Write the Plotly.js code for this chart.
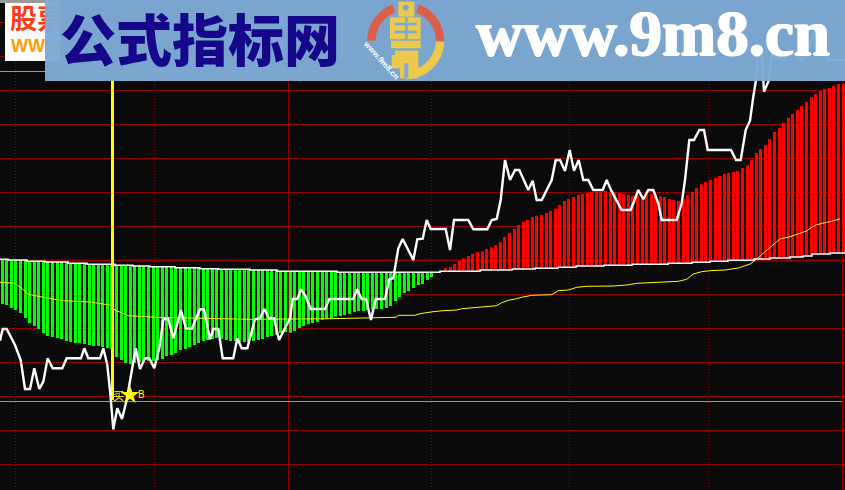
<!DOCTYPE html>
<html><head><meta charset="utf-8">
<script src="https://cdn.plot.ly/plotly-3.0.1.min.js"></script>
<style>html,body{margin:0;padding:0;background:#0a0a0a;overflow:hidden}#c{width:845px;height:490px}</style>
</head><body><div id="c"></div>
<script>
// Value levels are read on an axis whose scale runs 490 (bottom) to 0 (top); time runs 0..845.
const gridLevels=[22,56,90,124,158,192,226,294,328,362,396,430,464];
const heavyLevels=[260];
const signalLevels=[71,401];
const dottedTimes=[15,154,431,569,708];
const solidTimes=[288,842];

const barFirst=1.7, barStep=4.57;

// stepped middle line: the time each step begins, and its level
const baseT=[0,8,27,45,68,87,115,133,150,175,200,218,250,277,337,440,480,512,535,558,576,604,632,668,692,710,728,754,770,790,803,812,830,845];
const baseV=[259.3,260,261.3,262,263.3,264.3,265.3,266,266.7,267.7,268.7,269.3,270,271.3,272.3,271.3,270,269,268.3,267.3,266,265.3,264.3,263.3,262.3,261.3,260.3,259,258,257,256,254,253,251.7];

const greenEnds=[304,305,308,310,313,318,323,326,329,333,336,337,338,339,341,342,343,343,344,345,346,346,347,348,349,
357,360,363,364,363,362,361,361,361,360,359,356,355,353,350,349,347,345,343,341,340,339,338,339,340,341,341,342,342,342,341,340,339,337,336,335,
333,332,332.7,331,328,326,324,323,322,320,318.5,318,316.5,316,315,314,312,311,311,310,309.5,309,309,308,306,301,297,293,291,288,285,284,280,277,273];

const redFirst=97;
const redEnds=[268,266.7,264,261,258.3,256,254,252,251.3,249,247.3,245.3,242,237,233,229,225,222,220,217,215.7,215,213,211,208.7,205,201,199,197,195,194,193,192,192,192,191,191.7,
192.3,193,194,195,195.7,195,196,195,194,194.7,196.3,197,199,200,201,199,195.3,192,188,184.3,182,180,178,176,174,173,172,171,168,165.3,160,153,149,145,139,132,128,123,118,114,110,106,102,97,94,91,89,88,86,84,84];

const whiteT=[0,2.7,6.7,15,20.7,25,30,34.3,39.3,43.3,47.7,52.7,62.3,66.7,81,84.3,88.3,100,103.3,107.3,110.3,113.3,117.3,122,126.7,131.7,135.7,140,145,149.3,154.3,159.3,163.3,168.3,173.3,181,186,191.7,200,204,210,213.3,218.3,222.7,233.3,237.3,241.7,247.3,255,260,264.3,269,274,279,290,292.7,297.3,301,305,310.7,325,329.3,353.3,357,361.7,366,371,375.7,385,389.3,393.3,398.3,402.7,413.3,417.3,422.7,426.7,430.7,445.7,450,454,468.3,473.3,487.3,491.7,496.7,500.7,505,510,515,519.3,528.3,532.7,536.7,541.7,551.7,555.7,560,565,569.7,574,578.7,583.3,588.3,593.3,602.7,606.7,611,618.3,621.7,630.7,638.3,643.3,648.3,653.3,658.3,661.7,676.7,681.7,685,689.3,694,699.3,704,707.7,731,736,740.7,745.7,750,753.3,756,758,762,764,768.3,772,783,790,802,815,828,845];
const whiteV=[340.7,329,329,345,360,389,389,368.3,389,381.7,358.3,368.3,368.3,358.3,358.3,348.3,358.3,358.3,348.3,365,393.3,429.3,408.3,419,400,373.3,348.3,369,358.3,358.3,368.3,348.3,319,319,338.3,310,328.3,329,309.3,309.3,339.3,329,329,358.3,358.3,338.3,348.3,348.3,319.3,318.3,309,318.3,318.3,340,318.3,299,299,289.3,295,309,309,299,299,289.3,299,299,320,299,299,279.3,278.3,248.3,239,260,239.3,238.7,220,229,229,250,220,220,229.3,229.3,220,219,200,160,180,170,170,190,180.7,200,200,180,160,160,171,150,170.7,160,180,180,190,190,180,190,203.3,210,210,190,199.3,190,190,203.3,220,220,203.3,180,140,140,130,130,150,150,160,160,130,120.7,96.7,80,57,57,91.7,81.7,56,60,52,60,33,60,60];

const yellowT=[0,15,21.7,28.3,43.3,63.3,90,110,115,128.3,156.7,200,220,250,330,383,396,398.3,415,420,425,433,443,456.7,461.7,475,485,496.7,501.7,508.3,516.7,521.7,531.7,551.7,558.3,568.3,576.7,586.7,613.3,626.7,636.7,660,678.3,686.7,693.3,701.7,710,725,738.3,750,756.7,765,775,780,790,798,806.7,811.7,816.7,826.7,840];
const yellowV=[282.3,283.3,288.3,294.3,297.3,300.7,302,305,310,315.7,317.3,318.3,318.3,319.3,318.7,317.3,317.3,315.3,315.3,313.7,312.7,311.7,310.7,310,308.7,307.3,306.3,305.7,302.7,300.3,298.7,297.3,295.3,294.7,290.7,290,287.3,286.3,286,285,283.3,282.3,281.3,279.3,274,271.7,270.7,270,268,264,259.3,251.7,243.3,239,236.7,234,231,227.3,224.7,222.3,219];

const buyT=[112.5,112.5], buyV=[80,400];
const starT=[130], starV=[395];
const labelBuy='买', labelB='B';
const bannerCn='公式指标网', bannerUrl='www.9m8.cn', ringUrl='www.9m8.cn', logoCn='股票', logoUrl='WWW';

const barT=i=>Math.round(barFirst+i*barStep)+0.5;
const baseAt=t=>{let v=baseV[0];for(let k=0;k<baseT.length;k++){if(baseT[k]<=t)v=baseV[k];}return v;};
const greenT=greenEnds.map((_,i)=>barT(i));
const redT=redEnds.map((_,i)=>barT(i+redFirst));

const traces=[
 {type:'bar',x:greenT,base:greenT.map(baseAt),y:greenEnds.map((v,i)=>v-baseAt(greenT[i])),width:3,marker:{color:'#00ff00',line:{width:0}},hoverinfo:'skip'},
 {type:'bar',x:redT,base:redT.map(baseAt),y:redEnds.map((v,i)=>v-baseAt(redT[i])),width:3,marker:{color:'#ff0000',line:{width:0}},hoverinfo:'skip'},
 {type:'scatter',mode:'lines',x:yellowT,y:yellowV,line:{color:'#ffff00',width:1},hoverinfo:'skip'},
 {type:'scatter',mode:'lines',x:baseT,y:baseV,line:{color:'#ffffff',width:1.6,shape:'hv'},hoverinfo:'skip'},
 {type:'scatter',mode:'lines',x:buyT,y:buyV,line:{color:'#ffff00',width:3},hoverinfo:'skip'},
 {type:'scatter',mode:'lines',x:whiteT,y:whiteV,line:{color:'#ffffff',width:2.4},hoverinfo:'skip'},
 {type:'scatter',mode:'markers',x:starT,y:starV,marker:{symbol:'star',size:14,color:'#ffff00',line:{width:0}},hoverinfo:'skip'},
 {type:'scatter',mode:'text',x:[10],y:[22],text:[logoCn],textposition:'middle right',textfont:{family:'Noto Sans CJK SC',size:27,color:'#ff3c14',weight:700},hoverinfo:'skip'},
 {type:'scatter',mode:'text',x:[11],y:[47],text:[logoUrl],textposition:'middle right',textfont:{family:'Liberation Sans',size:18,color:'#ff9c00',weight:700},hoverinfo:'skip'}
];

const shapes=[];
const red='#900000';
gridLevels.forEach(v=>shapes.push({type:'line',layer:'below',xref:'x',yref:'y',x0:0,x1:845,y0:v+0.5,y1:v+0.5,line:{color:red,width:1}}));
heavyLevels.forEach(v=>shapes.push({type:'line',layer:'below',xref:'x',yref:'y',x0:0,x1:845,y0:v+0.5,y1:v+0.5,line:{color:'#8b0000',width:2}}));
dottedTimes.forEach(t=>shapes.push({type:'line',layer:'below',xref:'x',yref:'y',x0:t+0.5,x1:t+0.5,y0:0,y1:487,line:{color:red,width:1,dash:'1px,2px'}}));
solidTimes.forEach(t=>shapes.push({type:'line',layer:'below',xref:'x',yref:'y',x0:t+0.5,x1:t+0.5,y0:0,y1:490,line:{color:red,width:1}}));
signalLevels.forEach(v=>shapes.push({type:'line',layer:'below',xref:'x',yref:'y',x0:0,x1:842,y0:v+0.5,y1:v+0.5,line:{color:'#33dd33',width:1}}));
// left logo plate, under the text traces
shapes.push({type:'rect',layer:'below',xref:'x',yref:'y',x0:5,x1:60,y0:3,y1:61,fillcolor:'#ffffff',line:{width:0}});
shapes.push({type:'rect',layer:'below',xref:'x',yref:'y',x0:0,x1:60,y0:0,y1:3,fillcolor:'#9a9a9a',line:{width:0}});
// banner
const over=(o)=>Object.assign({type:'rect',layer:'above',xref:'x',yref:'y',line:{width:0}},o);
shapes.push(over({x0:45,x1:845,y0:0,y1:81,fillcolor:'#7eaad6',opacity:0.97}));
// round emblem
const cx=405.7,cy=40.7,R=38.5,r=30;
const arc=(a0,a1,col)=>{let p='';const n=40;
 for(let k=0;k<=n;k++){const a=(a0+(a1-a0)*k/n)*Math.PI/180;p+=(k?'L':'M')+(cx+R*Math.cos(a)).toFixed(1)+','+(cy+R*Math.sin(a)).toFixed(1);}
 for(let k=n;k>=0;k--){const a=(a0+(a1-a0)*k/n)*Math.PI/180;p+='L'+(cx+r*Math.cos(a)).toFixed(1)+','+(cy+r*Math.sin(a)).toFixed(1);}
 return {type:'path',layer:'above',xref:'x',yref:'y',path:p+'Z',fillcolor:col,line:{width:0}};};
const ey='#ecc94b';
shapes.push(arc(180,250,'#dc5f4e'));
shapes.push(arc(290,360,'#dc5f4e'));
shapes.push(arc(2,90,ey));
const E=(x0,x1,y0,y1,c)=>shapes.push(over({x0:355+x0/3,x1:355+x1/3,y0:y0/3,y1:y1/3,fillcolor:c||ey}));
const bk='#7eaad6';
E(130,178,5,50); E(105,197,52,118); E(108,197,122,145); E(120,190,150,165); E(135,190,165,235); E(110,135,165,205);
E(118,185,68,76,bk); E(118,185,92,100,bk); E(150,158,52,118,bk); E(108,197,148,152,bk); E(148,160,190,235,bk);
shapes.push({type:'circle',layer:'above',xref:'x',yref:'y',x0:355+143/3,x1:355+161/3,y0:14/3,y1:32/3,fillcolor:bk,line:{width:0}});

const ann=(text,x,y,font,o)=>Object.assign({text,x,y,xref:'x',yref:'y',showarrow:false,xanchor:'center',yanchor:'middle',font},o||{});
const annotations=[
 ann(bannerCn,200,36,{family:'Noto Sans CJK SC',size:56,color:'#16068a',weight:900}),
 ann(bannerUrl,652.5,33,{family:'Liberation Serif',size:65,color:'#ffffff',weight:700,shadow:'1px 0 #fff,-1px 0 #fff,0 1px #fff'}),
 ann(ringUrl,381.7,60,{family:'Liberation Sans',size:8,color:'#ffffff',weight:700},{textangle:48}),
 ann(labelBuy,118.5,395,{family:'Noto Sans CJK SC',size:11,color:'#ffff00'}),
 ann(labelB,141,394.5,{family:'Liberation Sans',size:10,color:'#ffff00'})
];

Plotly.newPlot('c',traces,{
 width:845,height:490,margin:{l:0,r:0,t:0,b:0,pad:0},
 paper_bgcolor:'#0a0a0a',plot_bgcolor:'#0a0a0a',showlegend:false,barmode:'overlay',
 xaxis:{range:[0,845],visible:false,fixedrange:true},
 yaxis:{range:[490,0],visible:false,fixedrange:true},
 shapes,annotations
},{displayModeBar:false,staticPlot:true});
</script></body></html>
